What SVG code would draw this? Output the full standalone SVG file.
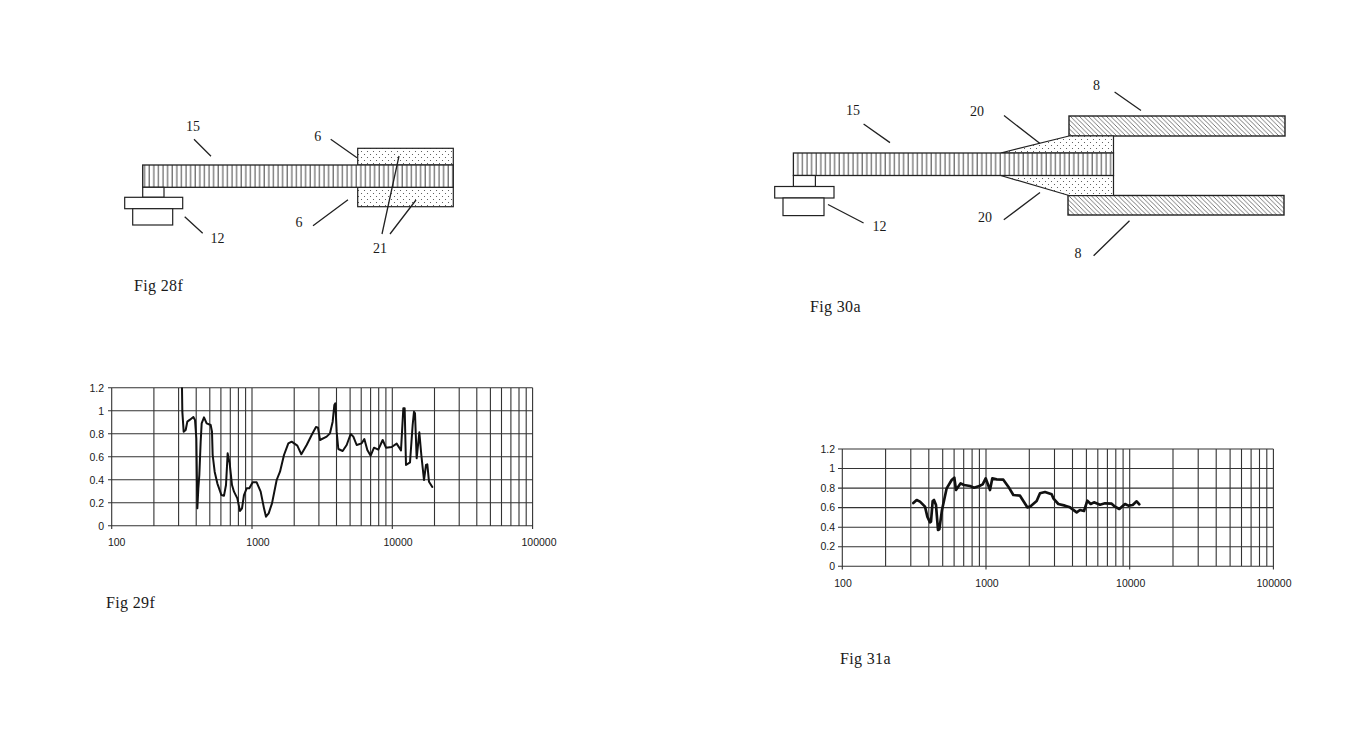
<svg xmlns="http://www.w3.org/2000/svg" width="1357" height="734" viewBox="0 0 1357 734">
<style>
.o{fill:#fff;stroke:#222;stroke-width:1.2}
.s{fill:url(#stripes);stroke:#222;stroke-width:1.3}
.d{fill:url(#dots);stroke:#222;stroke-width:1.2}
.h{fill:url(#hatch);stroke:#222;stroke-width:1.4}
.l{fill:none;stroke:#222;stroke-width:1.3}
.g{fill:none;stroke:#333;stroke-width:1.1}
.c{fill:none;stroke:#111;stroke-linejoin:round;stroke-linecap:round}
text{fill:#1a1a1a}
.t{font-family:"Liberation Serif",serif;font-size:14px;text-anchor:middle}
.f{font-family:"Liberation Serif",serif;font-size:16px;letter-spacing:.35px}
.a{font-family:"Liberation Sans",sans-serif;font-size:10.5px}
.e{text-anchor:end}
.m{text-anchor:middle}
</style>
<defs>
<pattern id="stripes" width="4.6" height="10" patternUnits="userSpaceOnUse"><rect width="4.6" height="10" fill="#fff"/><path d="M2 0V10" stroke="#444" stroke-width="1"/></pattern>
<pattern id="dots" width="6" height="6" patternUnits="userSpaceOnUse"><rect width="6" height="6" fill="#fff"/><circle cx="1.5" cy="1.5" r=".55" fill="#444"/><circle cx="4.5" cy="4.5" r=".55" fill="#444"/></pattern>
<pattern id="hatch" width="4.5" height="4.5" patternUnits="userSpaceOnUse"><rect width="4.5" height="4.5" fill="#fff"/><path d="M-1 -1L5.5 5.5M-1 3.5L1 5.5M3.5 -1L5.5 1" stroke="#555" stroke-width=".8"/></pattern>
</defs>
<rect width="1357" height="734" fill="#fff"/>

<g id="fig28f">
<g id="n28-top"><rect class="d" x="357.7" y="148.3" width="95.6" height="16.7"/></g>
<g id="n28-bottom"><rect class="d" x="357.7" y="187.3" width="95.6" height="19.4"/></g>
<g id="n28-strip"><rect class="s" x="142.7" y="165" width="310.6" height="22.3"/><text class="t" x="193" y="130.5">15</text></g>
<g id="n28-clamp"><rect class="o" x="142.7" y="187.3" width="21.3" height="10"/><rect class="o" x="124.7" y="197.3" width="58" height="11.4"/><rect class="o" x="132.7" y="208.7" width="40" height="16.3"/><text class="t" x="217.5" y="243">12</text></g>
<text class="t" x="317.7" y="140.5">6</text><text class="t" x="299" y="226.5">6</text><text class="t" x="380" y="252.5">21</text>
<text class="f" x="134" y="291">Fig 28f</text>
<g id="c28"><path class="l" d="M194 139.3L211 156.3M330.7 139.3L357 157.7M313 225.7L348 199.7M184.7 216.7L202.7 233.3M382 234L399 156M390 234L416 200"/></g>
</g>

<g id="fig30a">
<g id="n30-top"><rect class="h" x="1069" y="116" width="216" height="20"/></g>
<g id="n30-bottom"><rect class="h" x="1068" y="195.5" width="216" height="19.5"/></g>
<g id="n30-wedge-top"><path class="d" d="M1000.7 153L1069 136H1113.5V153Z"/></g>
<g id="n30-wedge-bottom"><path class="d" d="M1000.7 175.5L1069 195.5H1113.5V175.5Z"/></g>
<g id="n30-strip"><rect class="s" x="793.4" y="153" width="320.1" height="22.5"/><text class="t" x="853" y="115">15</text></g>
<g id="n30-clamp"><rect class="o" x="793.4" y="175.5" width="22" height="11"/><rect class="o" x="774.7" y="186.5" width="59.3" height="11.5"/><rect class="o" x="783" y="198" width="41" height="17.6"/><text class="t" x="879.5" y="230.5">12</text></g>
<text class="t" x="977" y="116">20</text><text class="t" x="985" y="222">20</text><text class="t" x="1096.5" y="90">8</text><text class="t" x="1078" y="258">8</text>
<text class="f" x="810" y="311.5">Fig 30a</text>
<g id="c30"><path class="l" d="M863.6 124L890 142.6M1004 115.6L1040 143.6M1003.8 219.7L1040 192.6M1114.6 92L1141 110.5M1093.6 255.8L1129.5 220.7M828 204.5L863.6 223"/></g>
</g>

<g id="fig29f">
<path class="g" d="M108 387.7H532.6M108 410.7H532.6M108 433.7H532.6M108 456.7H532.6M108 479.7H532.6M108 502.7H532.6M108 525.7H532.6M111.7 387.7V529M153.9 387.7V525.7M178.6 387.7V525.7M196.2 387.7V525.7M209.8 387.7V525.7M220.9 387.7V525.7M230.3 387.7V525.7M238.4 387.7V525.7M245.6 387.7V525.7M252 387.7V529M294.2 387.7V525.7M318.9 387.7V525.7M336.5 387.7V525.7M350.1 387.7V525.7M361.2 387.7V525.7M370.6 387.7V525.7M378.7 387.7V525.7M385.9 387.7V525.7M392.3 387.7V529M434.5 387.7V525.7M459.2 387.7V525.7M476.8 387.7V525.7M490.4 387.7V525.7M501.5 387.7V525.7M510.9 387.7V525.7M519 387.7V525.7M526.2 387.7V525.7M532.6 387.7V529"/>
<polyline class="c" stroke-width="6" transform="translate(80 375) scale(.33333)" points="306,40 307,110 311,170 317,165 322,140 330,134 340,126 345,135 349,190 352,400 355,340 358,300 362,200 365,145 372,127 380,145 392,150 396,170 398,240 404,290 412,325 424,360 432,362 438,330 443,235 449,265 456,330 462,350 472,370 480,408 486,400 492,360 500,340 508,340 518,322 530,322 542,350 552,400 558,425 566,415 576,385 590,315 600,290 612,240 625,205 635,200 652,212 664,238 680,210 695,180 708,156 714,158 720,195 740,185 750,175 758,140 763,90 766,85 770,170 775,222 788,228 800,210 812,177 820,185 830,210 845,205 853,192 862,225 872,242 882,218 895,224 908,195 918,218 935,216 950,206 963,226 970,100 974,100 978,270 990,262 998,150 1002,110 1005,115 1010,250 1018,172 1024,240 1032,315 1038,270 1042,268 1047,320 1057,336"/>
<text class="a e" x="104" y="391.5">1.2</text><text class="a e" x="104" y="414.5">1</text><text class="a e" x="104" y="437.5">0.8</text><text class="a e" x="104" y="460.5">0.6</text><text class="a e" x="104" y="483.5">0.4</text><text class="a e" x="104" y="506.5">0.2</text><text class="a e" x="104" y="529.5">0</text>
<text class="a m" x="116.7" y="546">100</text><text class="a m" x="258" y="546">1000</text><text class="a m" x="398" y="546">10000</text><text class="a m" x="539" y="546">100000</text>
<text class="f" x="106" y="607.5">Fig 29f</text>
</g>

<g id="fig31a">
<path class="g" d="M838 449H1273.4M838 468.55H1273.4M838 488.1H1273.4M838 507.65H1273.4M838 527.2H1273.4M838 546.75H1273.4M838 566.3H1273.4M842.3 449V569.5M885.6 449V566.3M910.8 449V566.3M928.8 449V566.3M942.7 449V566.3M954.1 449V566.3M963.7 449V566.3M972.1 449V566.3M979.4 449V566.3M986 449V569.5M1029.3 449V566.3M1054.5 449V566.3M1072.5 449V566.3M1086.4 449V566.3M1097.8 449V566.3M1107.4 449V566.3M1115.8 449V566.3M1123.1 449V566.3M1129.7 449V569.5M1173 449V566.3M1198.2 449V566.3M1216.2 449V566.3M1230.1 449V566.3M1241.5 449V566.3M1251.1 449V566.3M1259.5 449V566.3M1266.8 449V566.3M1273.4 449V569.5"/>
<polyline class="c" stroke-width="8" transform="translate(810 435) scale(.33333)" points="310,204 320,195 330,200 345,215 352,245 360,262 363,260 368,198 372,195 378,210 384,285 388,283 396,225 410,160 425,135 433,128 438,165 452,145 462,150 480,153 492,158 508,153 518,148 527,130 540,165 547,130 560,133 580,134 595,155 610,180 630,182 652,217 660,215 680,198 690,175 705,171 725,178 730,190 745,207 765,212 780,217 800,232 810,225 822,228 832,197 842,207 852,202 870,209 885,205 905,206 915,215 928,222 945,207 955,212 968,210 980,199 988,208"/>
<text class="a e" x="835" y="452.5">1.2</text><text class="a e" x="835" y="472">1</text><text class="a e" x="835" y="491.5">0.8</text><text class="a e" x="835" y="511">0.6</text><text class="a e" x="835" y="530.5">0.4</text><text class="a e" x="835" y="550">0.2</text><text class="a e" x="835" y="569.5">0</text>
<text class="a m" x="843" y="586.5">100</text><text class="a m" x="987" y="586.5">1000</text><text class="a m" x="1130.7" y="586.5">10000</text><text class="a m" x="1274" y="586.5">100000</text>
<text class="f" x="840" y="663.5">Fig 31a</text>
</g>
</svg>
